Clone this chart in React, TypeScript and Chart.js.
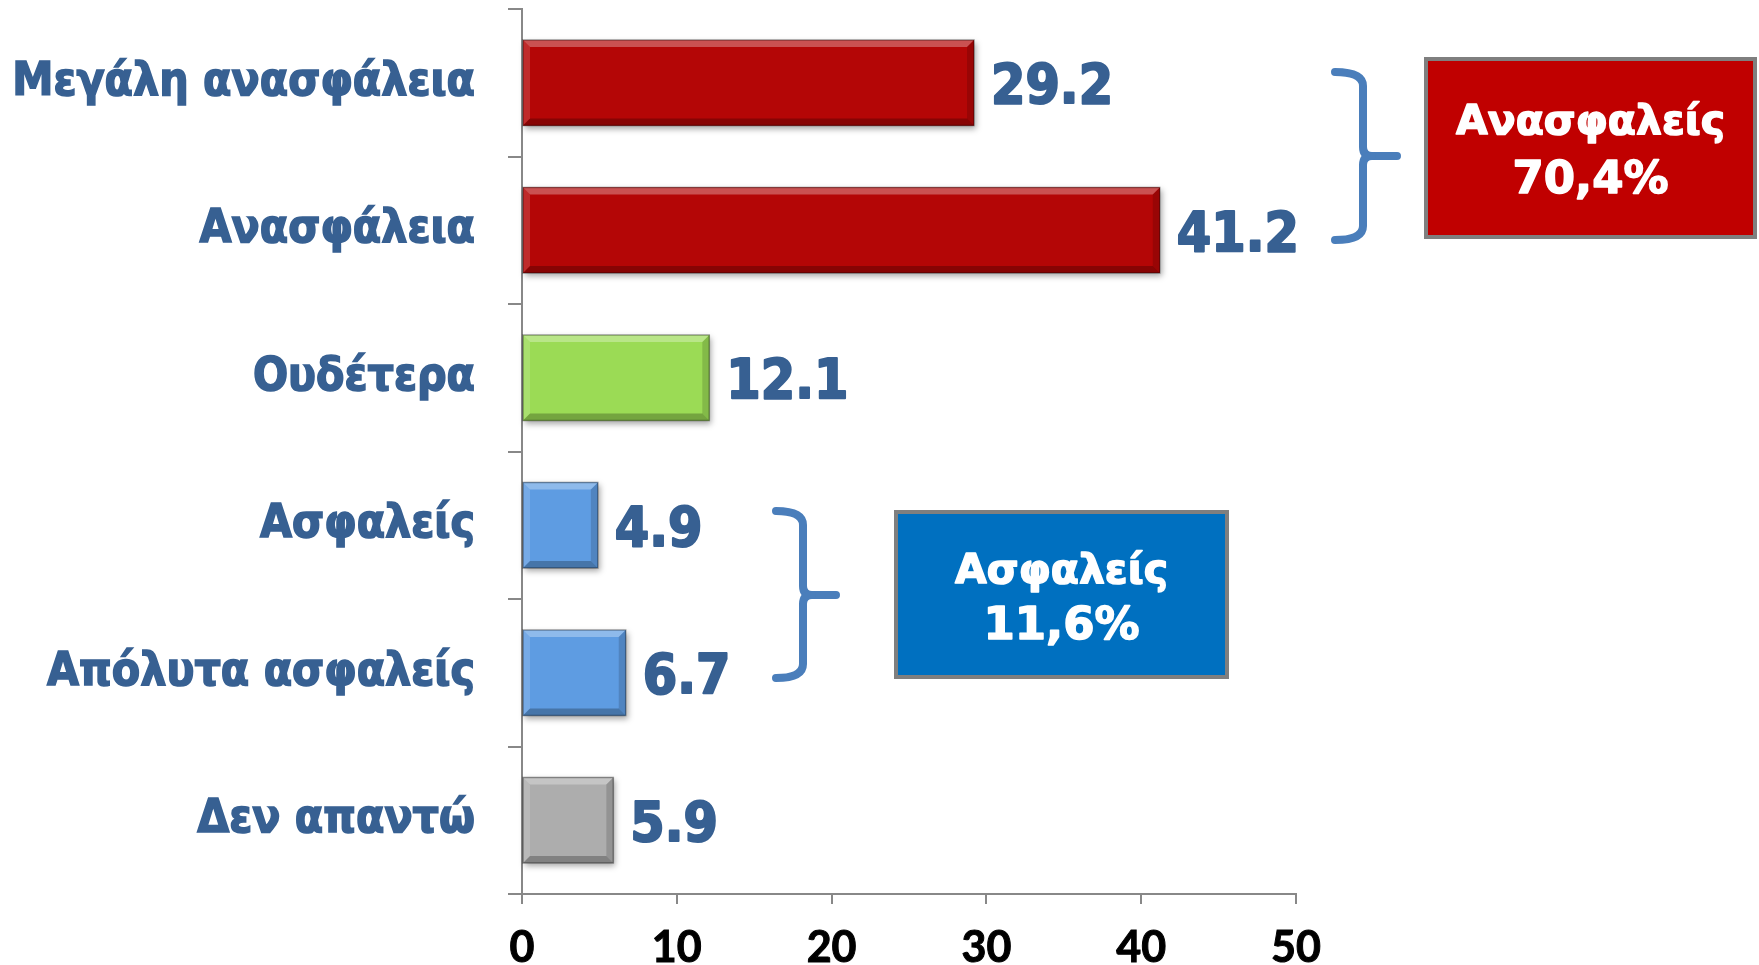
import React, { useEffect, useRef } from 'react';
import { Chart, registerables } from 'chart.js';

Chart.register(...registerables);

const categories = ['Μεγάλη ανασφάλεια', 'Ανασφάλεια', 'Ουδέτερα', 'Ασφαλείς', 'Απόλυτα ασφαλείς', 'Δεν απαντώ'];
const values = [29.2, 41.2, 12.1, 4.9, 6.7, 5.9];
const barColors = ['#B40606', '#B40606', '#9BDB55', '#5E9CE2', '#5E9CE2', '#ADADAD'];
const xTicks = [0, 10, 20, 30, 40, 50];
const groupTitles = ['Ανασφαλείς', 'Ασφαλείς'];
const groupValues = ['70,4%', '11,6%'];
const groupFills = ['#C00000', '#0070C0'];

const LABEL_BLUE = '#376092';
const AXIS_GRAY = '#888888';
const BRACE_BLUE = '#4A7EBB';

function poly(ctx: CanvasRenderingContext2D, pts: number[][], fill: string) {
  ctx.beginPath();
  ctx.moveTo(pts[0][0], pts[0][1]);
  for (let i = 1; i < pts.length; i++) ctx.lineTo(pts[i][0], pts[i][1]);
  ctx.closePath();
  ctx.fillStyle = fill;
  ctx.fill();
}

function drawBrace(ctx: CanvasRenderingContext2D, x0: number, xv: number, xt: number, top: number, bottom: number, mid: number) {
  const r1 = 14;
  const r2 = 9;
  ctx.save();
  ctx.strokeStyle = BRACE_BLUE;
  ctx.lineWidth = 8;
  ctx.lineCap = 'round';
  ctx.lineJoin = 'round';
  ctx.beginPath();
  ctx.moveTo(x0, top);
  ctx.quadraticCurveTo(xv, top, xv, top + r1);
  ctx.lineTo(xv, mid - r2);
  ctx.quadraticCurveTo(xv, mid, xv + r2, mid);
  ctx.lineTo(xt, mid);
  ctx.stroke();
  ctx.beginPath();
  ctx.moveTo(xv + r2, mid);
  ctx.quadraticCurveTo(xv, mid, xv, mid + r2);
  ctx.lineTo(xv, bottom - r1);
  ctx.quadraticCurveTo(xv, bottom, x0, bottom);
  ctx.stroke();
  ctx.restore();
}

function heavyText(ctx: CanvasRenderingContext2D, text: string, x: number, y: number, w: number) {
  ctx.lineWidth = w;
  ctx.lineJoin = 'round';
  ctx.strokeStyle = ctx.fillStyle as string;
  ctx.strokeText(text, x, y);
  ctx.fillText(text, x, y);
}

function drawBox(ctx: CanvasRenderingContext2D, x: number, y: number, w: number, h: number, fill: string, title: string, value: string, b1: number, b2: number) {
  ctx.save();
  ctx.fillStyle = fill;
  ctx.fillRect(x, y, w, h);
  ctx.lineWidth = 4;
  ctx.strokeStyle = '#7F7F7F';
  ctx.strokeRect(x, y, w, h);
  ctx.fillStyle = '#FFFFFF';
  ctx.textAlign = 'center';
  ctx.textBaseline = 'alphabetic';
  ctx.font = "bold 41px 'DejaVu Sans'";
  heavyText(ctx, title, x + w / 2, b1, 1.5);
  ctx.font = "bold 45px 'DejaVu Sans'";
  heavyText(ctx, value, x + w / 2, b2, 1.5);
  ctx.restore();
}

const decorPlugin = {
  id: 'decor',
  beforeDatasetsDraw(chart: any) {
    const ctx = chart.ctx as CanvasRenderingContext2D;
    const meta = chart.getDatasetMeta(0);
    meta.data.forEach((el: any, i: number) => {
      const p = el.getProps(['x', 'y', 'base', 'height'], true);
      ctx.save();
      ctx.shadowColor = 'rgba(0,0,0,0.35)';
      ctx.shadowBlur = 6;
      ctx.shadowOffsetX = 2;
      ctx.shadowOffsetY = 3;
      ctx.fillStyle = barColors[i];
      ctx.fillRect(p.base, p.y - p.height / 2, p.x - p.base, p.height);
      ctx.restore();
    });
  },
  afterDatasetsDraw(chart: any) {
    const ctx = chart.ctx as CanvasRenderingContext2D;
    const meta = chart.getDatasetMeta(0);
    meta.data.forEach((el: any, i: number) => {
      const p = el.getProps(['x', 'y', 'base', 'height'], true);
      const l = p.base, r = p.x, t = p.y - p.height / 2, b = p.y + p.height / 2, s = 7;
      ctx.save();
      poly(ctx, [[l, t], [r, t], [r - s, t + s], [l + s, t + s]], 'rgba(255,255,255,0.30)');
      poly(ctx, [[l, t], [l + s, t + s], [l + s, b - s], [l, b]], 'rgba(255,255,255,0.15)');
      poly(ctx, [[r, t], [r, b], [r - s, b - s], [r - s, t + s]], 'rgba(0,0,0,0.15)');
      poly(ctx, [[l, b], [r, b], [r - s, b - s], [l + s, b - s]], 'rgba(0,0,0,0.25)');
      ctx.lineWidth = 1.5;
      ctx.strokeStyle = 'rgba(0,0,0,0.35)';
      ctx.strokeRect(l, t, r - l, b - t);
      ctx.fillStyle = LABEL_BLUE;
      ctx.font = "bold 55px 'DejaVu Sans Condensed', 'DejaVu Sans'";
      ctx.textAlign = 'left';
      ctx.textBaseline = 'middle';
      heavyText(ctx, values[i].toFixed(1), r + 17, p.y + 6, 2);
      ctx.restore();
    });
  },
  afterDraw(chart: any) {
    const ctx = chart.ctx as CanvasRenderingContext2D;
    drawBrace(ctx, 1335, 1363, 1397, 72, 240, 156);
    drawBrace(ctx, 776, 803, 836, 511, 678, 595);
    drawBox(ctx, 1426, 59, 329, 178, groupFills[0], groupTitles[0], groupValues[0], 134, 193);
    drawBox(ctx, 896, 512, 331, 165, groupFills[1], groupTitles[1], groupValues[1], 583, 639);
  },
};

export default function App() {
  const ref = useRef<HTMLCanvasElement | null>(null);
  useEffect(() => {
    if (!ref.current) return;
    const chart = new Chart(ref.current, {
      type: 'bar',
      data: {
        labels: categories,
        datasets: [
          {
            data: values,
            backgroundColor: barColors,
            borderWidth: 0,
            barPercentage: 0.58,
            categoryPercentage: 1,
          },
        ],
      },
      options: {
        indexAxis: 'y',
        responsive: false,
        animation: false,
        devicePixelRatio: 1,
        layout: { padding: { top: 9, right: 463, left: 0, bottom: 0 } },
        plugins: { legend: { display: false }, tooltip: { enabled: false } },
        scales: {
          x: {
            min: 0,
            max: 50,
            afterBuildTicks: (s: any) => {
              s.ticks = xTicks.map((v) => ({ value: v }));
            },
            ticks: {
              color: '#000000',
              font: { family: "Lato, 'Liberation Sans Narrow'", weight: 'bold', size: 43 },
              padding: 18,
              maxRotation: 0,
              textStrokeColor: '#000000',
              textStrokeWidth: 1,
            },
            grid: { drawOnChartArea: false, drawTicks: true, tickLength: 10, color: AXIS_GRAY, lineWidth: 2 },
            border: { color: AXIS_GRAY, width: 2 },
            afterFit: (s: any) => {
              s.height = 71;
              s.paddingLeft = 0;
              s.paddingRight = 0;
            },
          },
          y: {
            ticks: {
              color: LABEL_BLUE,
              font: { family: "'DejaVu Sans Condensed', 'DejaVu Sans'", weight: 'bold', size: 46 },
              padding: 33,
              textStrokeColor: LABEL_BLUE,
              textStrokeWidth: 1.5,
            },
            grid: { drawOnChartArea: false, drawTicks: true, tickLength: 14, color: AXIS_GRAY, lineWidth: 2, offset: true },
            border: { color: AXIS_GRAY, width: 2 },
            afterFit: (s: any) => {
              s.width = 522;
              s.paddingTop = 0;
              s.paddingBottom = 0;
            },
          },
        },
      },
      plugins: [decorPlugin],
    } as any);
    return () => chart.destroy();
  }, []);
  return (
    <div style={{ position: 'absolute', left: 0, top: 0, width: 1759, height: 965 }}>
      <canvas ref={ref} width={1759} height={965} style={{ display: 'block' }} />
    </div>
  );
}
